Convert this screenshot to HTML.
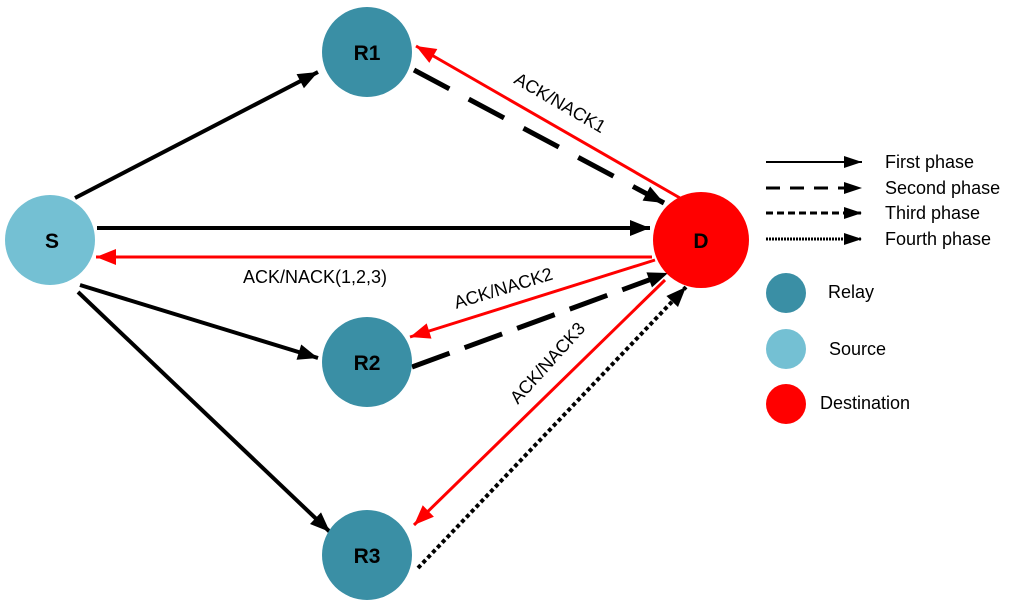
<!DOCTYPE html>
<html><head><meta charset="utf-8"><style>body{margin:0;background:#fff}svg{display:block}text{font-family:"Liberation Sans",Arial,sans-serif}</style></head>
<body>
<svg width="1024" height="607" viewBox="0 0 1024 607" xmlns="http://www.w3.org/2000/svg">
<defs>
<marker id="ab" viewBox="-20 -10 30 20" refX="4" refY="0" markerWidth="30" markerHeight="20" markerUnits="userSpaceOnUse" orient="auto"><path d="M-16,-8 L4,0 L-16,8 Z" fill="#000"/></marker>
<marker id="as" viewBox="-20 -10 30 20" refX="4" refY="0" markerWidth="30" markerHeight="20" markerUnits="userSpaceOnUse" orient="auto"><path d="M-14,-6 L4,0 L-14,6 Z" fill="#000"/></marker>
<marker id="ar" viewBox="-20 -10 30 20" refX="4" refY="0" markerWidth="30" markerHeight="20" markerUnits="userSpaceOnUse" orient="auto"><path d="M-16,-8 L4,0 L-16,8 Z" fill="#f00"/></marker>
</defs>
<g stroke-width="4" fill="none">
<line x1="75" y1="198" x2="318" y2="72" stroke="#000" marker-end="url(#ab)"/>
<line x1="97" y1="228" x2="650" y2="228" stroke="#000" marker-end="url(#ab)"/>
<line x1="80" y1="285" x2="318" y2="358" stroke="#000" marker-end="url(#ab)"/>
<line x1="78" y1="292" x2="330" y2="532" stroke="#000" marker-end="url(#ab)"/>
<line x1="414" y1="70" x2="664" y2="203" stroke="#000" stroke-width="5" stroke-dasharray="40,22" marker-end="url(#ab)"/>
<line x1="412" y1="367" x2="668" y2="273" stroke="#000" stroke-width="5" stroke-dasharray="40,16" marker-end="url(#ab)"/>
<line x1="418" y1="568" x2="686" y2="287" stroke="#000" stroke-width="4" stroke-dasharray="4,3" marker-end="url(#ab)"/>
<line x1="680" y1="198" x2="416" y2="46" stroke="#f00" stroke-width="3" marker-end="url(#ar)"/>
<line x1="652" y1="257" x2="96" y2="257" stroke="#f00" stroke-width="3" marker-end="url(#ar)"/>
<line x1="655" y1="260" x2="410" y2="337" stroke="#f00" stroke-width="3" marker-end="url(#ar)"/>
<line x1="665" y1="280" x2="414" y2="525" stroke="#f00" stroke-width="3" marker-end="url(#ar)"/>
</g>
<circle cx="50" cy="240" r="45" fill="#74c0d3"/>
<circle cx="367" cy="52" r="45" fill="#3a8fa5"/>
<circle cx="367" cy="362" r="45" fill="#3a8fa5"/>
<circle cx="367" cy="555" r="45" fill="#3a8fa5"/>
<circle cx="701" cy="240" r="48" fill="#f00"/>
<g font-weight="bold" font-size="21" text-anchor="middle">
<text x="52" y="248">S</text><text x="367" y="60">R1</text><text x="367" y="370">R2</text><text x="367" y="563">R3</text><text x="701" y="248">D</text>
</g>
<g font-size="18">
<text x="315" y="283" text-anchor="middle">ACK/NACK(1,2,3)</text>
<text transform="translate(557,108) rotate(30)" text-anchor="middle">ACK/NACK1</text>
<text transform="translate(505,294) rotate(-17)" text-anchor="middle">ACK/NACK2</text>
<text transform="translate(552,367) rotate(-48)" text-anchor="middle">ACK/NACK3</text>
</g>
<g stroke="#000" stroke-width="2">
<line x1="766" y1="162" x2="862" y2="162" marker-end="url(#as)"/>
<line x1="766" y1="188" x2="862" y2="188" stroke-width="3" stroke-dasharray="14,10" marker-end="url(#as)"/>
<line x1="766" y1="213" x2="862" y2="213" stroke-width="3" stroke-dasharray="7,4" marker-end="url(#as)"/>
<line x1="766" y1="239" x2="862" y2="239" stroke-width="3" stroke-dasharray="2,1" marker-end="url(#as)"/>
</g>
<g font-size="18">
<text x="885" y="168">First phase</text>
<text x="885" y="194">Second phase</text>
<text x="885" y="219">Third phase</text>
<text x="885" y="245">Fourth phase</text>
<text x="828" y="298">Relay</text>
<text x="829" y="355">Source</text>
<text x="820" y="409">Destination</text>
</g>
<circle cx="786" cy="293" r="20" fill="#3a8fa5"/>
<circle cx="786" cy="349" r="20" fill="#74c0d3"/>
<circle cx="786" cy="404" r="20" fill="#f00"/>
</svg>
</body></html>
